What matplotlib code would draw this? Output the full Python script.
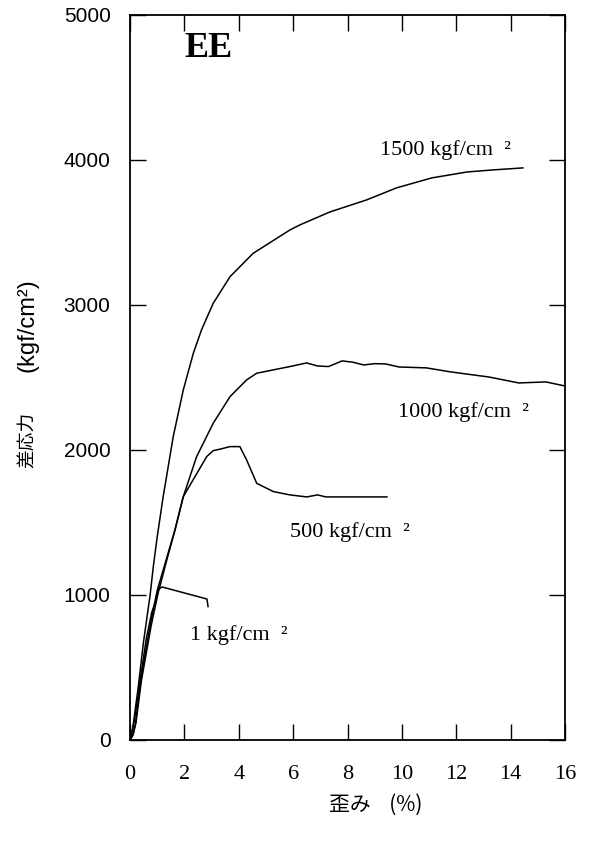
import matplotlib
matplotlib.use("Agg")
import matplotlib.pyplot as plt

# stress-strain curves (strain %, deviator stress kgf/cm2)
strain_1500 = [0, 0.1, 0.29, 0.5, 0.74, 0.86, 1.0, 1.22, 1.59, 1.96, 2.33, 2.63, 3.06,
               3.68, 4.53, 5.88, 6.25, 7.35, 8.7, 9.8, 11.1, 12.4, 13.35, 14.45]
stress_1500 = [0, 80, 345, 680, 1000, 1200, 1400, 1678, 2092, 2414, 2667, 2828, 3011,
               3195, 3356, 3517, 3552, 3641, 3724, 3807, 3876, 3917, 3931, 3945]

strain_1000 = [0, 0.1, 0.2, 0.4, 0.75, 1.0, 1.35, 1.65, 1.96, 2.45, 3.06, 3.68, 4.29,
               4.66, 5.88, 6.5, 6.9, 7.3, 7.8, 8.2, 8.6, 9.0, 9.4, 9.9, 10.9, 11.8,
               13.2, 14.3, 15.3, 16.0]
stress_1000 = [0, 30, 110, 420, 800, 1030, 1255, 1448, 1678, 1954, 2184, 2368, 2483,
               2529, 2575, 2600, 2579, 2575, 2614, 2605, 2586, 2595, 2593, 2572, 2566, 2538,
               2503, 2462, 2469, 2441]

strain_500 = [0, 0.12, 0.22, 0.42, 0.78, 1.03, 1.38, 1.66, 1.96, 2.2, 2.45, 2.82, 3.06,
              3.3, 3.68, 4.04, 4.29, 4.66, 5.27, 5.88, 6.5, 6.9, 7.2, 9.45]
stress_500 = [0, 40, 120, 410, 790, 1010, 1260, 1450, 1678, 1755, 1835, 1954, 1995,
              2005, 2023, 2023, 1931, 1770, 1713, 1690, 1676, 1690, 1676, 1676]

strain_1 = [0, 0.15, 0.35, 0.6, 0.8, 0.95, 1.05, 1.18, 2.83, 2.87]
stress_1 = [0, 120, 380, 700, 880, 960, 1040, 1055, 972, 920]

curves = [(strain_1500, stress_1500), (strain_1000, stress_1000),
          (strain_500, stress_500), (strain_1, stress_1)]

labels = ["1500 kgf/cm  ²", "1000 kgf/cm  ²", "500 kgf/cm  ²", "1 kgf/cm  ²"]
label_x = [9.19, 9.85, 5.88, 2.2]
label_y = [4069, 2262, 1434, 724]

x_ticks = [0, 2, 4, 6, 8, 10, 12, 14, 16]
y_ticks = [0, 1000, 2000, 3000, 4000, 5000]

serif = ["Liberation Serif", "DejaVu Serif"]
sans = ["Liberation Sans", "DejaVu Sans"]
cjk = ["Noto Sans CJK JP", "DejaVu Sans"]

fig = plt.figure(figsize=(5.92, 8.52), dpi=100)
ax = fig.add_axes([0.2196, 0.1315, 0.7348, 0.851])

for xs, ys in curves:
    ax.plot(xs, ys, color="black", lw=1.1)

for txt, lx, ly in zip(labels, label_x, label_y):
    ax.text(lx, ly, txt, family=serif, fontsize=16, va="center", ha="left")

ax.text(2.0, 4770, "EE", family=serif, fontsize=26, fontweight="bold", va="center", ha="left")

ax.set_xlim(0, 16)
ax.set_ylim(0, 5000)
ax.set_xticks(x_ticks)
ax.set_yticks(y_ticks)
ax.tick_params(direction="in", length=11.5, width=1.0, top=True, right=True)
ax.tick_params(axis="x", pad=18)
ax.tick_params(axis="y", pad=14)
for lab in ax.get_xticklabels():
    lab.set_family(serif)
    lab.set_fontsize(16)
for lab in ax.get_yticklabels():
    lab.set_family(sans)
    lab.set_fontsize(15)
for sp in ax.spines.values():
    sp.set_linewidth(1.3)

# axis titles placed where they sit in the reference
fig.text(376 / 592, 1 - 805 / 852, "歪み    (%)", family=cjk, fontsize=15,
         ha="center", va="center")
fig.text(27 / 592, 1 - 440 / 852, "差応力", family=cjk, fontsize=13.5,
         rotation=90, ha="center", va="center")
fig.text(27 / 592, 1 - 325 / 852, "(kgf/cm²)", family=sans, fontsize=17,
         rotation=90, ha="center", va="center")

fig.savefig("out.png", dpi=100)
